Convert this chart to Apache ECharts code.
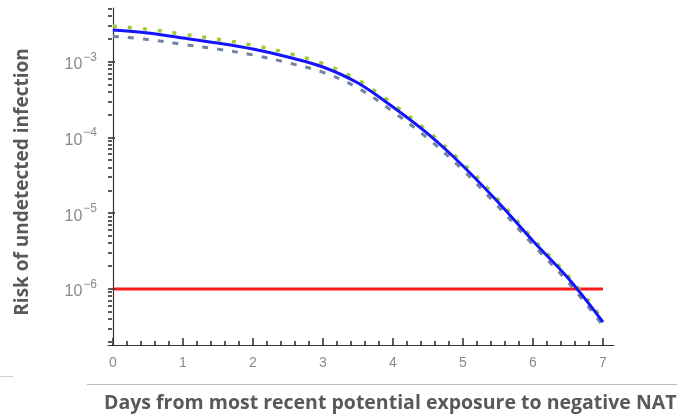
<!DOCTYPE html>
<html><head><meta charset="utf-8">
<script src="https://cdn.jsdelivr.net/npm/echarts@6/dist/echarts.min.js"></script>
<style>html,body{margin:0;padding:0;background:#fff}#c{width:677px;height:417px}</style>
</head><body><div id="c"></div>
<script>
const days = [0, 0.5, 1, 1.5, 2, 2.5, 3, 3.5, 4, 4.5, 5, 5.5, 6, 6.5, 7];
const riskBlue = [2.649e-3, 2.415e-3, 2.075e-3, 1.782e-3, 1.486e-3, 1.164e-3, 8.59e-4, 5.27e-4, 2.54e-4, 1.12e-4, 4.23e-5, 1.41e-5, 4.31e-6, 1.40e-6, 3.66e-7];
const riskGreen = [2.97e-3, 2.71e-3, 2.33e-3, 2.00e-3, 1.67e-3, 1.31e-3, 9.53e-4, 5.78e-4, 2.79e-4, 1.21e-4, 4.58e-5, 1.53e-5, 4.61e-6, 1.50e-6, 3.93e-7];
const riskDashed = [2.18e-3, 1.99e-3, 1.71e-3, 1.48e-3, 1.24e-3, 9.79e-4, 7.31e-4, 4.54e-4, 2.21e-4, 9.75e-5, 3.72e-5, 1.24e-5, 3.84e-6, 1.24e-6, 3.27e-7];
const thresholdDays = [0, 7];
const thresholdRisk = [1e-6, 1e-6];
const yMajorExponents = [-6, -5, -4, -3];
const xMajorTicks = [0, 1, 2, 3, 4, 5, 6, 7];
const yTitle = 'Risk of undetected infection';
const xTitle = 'Days from most recent potential exposure to negative NAT';

const L = Math.log10;
const toPairs = (xs, ys) => xs.map((x, i) => [x, L(ys[i])]);

const yMin = -6.74, yMax = -2.286, xMin = -0.07, xMax = 7.157;
const axisCol = '#333';
const labCol = '#8a8a8a';

// tick values (axis decoration): [value, length]
const xTicks = [];
for (let i = 0; i <= 7; i++) {
  xTicks.push([i, 7]);
  if (i < 7) for (let k = 1; k < 5; k++) xTicks.push([+(i + k * 0.2).toFixed(2), 4]);
}
const yTicks = [];
for (let e = -7; e <= -3; e++) {
  if (e >= -6) yTicks.push([e, 7]);
  for (let k = 2; k <= 9; k++) {
    const v = L(k) + e;
    if (v > yMin && v < yMax) yTicks.push([v, 4]);
  }
}

const chart = echarts.init(document.getElementById('c'), null, {renderer: 'canvas'});
chart.setOption({
  animation: false,
  backgroundColor: '#fff',
  grid: {left: 108, right: 63, top: 8, bottom: 72, containLabel: false},
  xAxis: {type: 'value', min: xMin, max: xMax, position: 'bottom',
     axisLine: {show: true, lineStyle: {color: axisCol, width: 1.2}},
     axisTick: {show: false},
     axisLabel: {show: true, customValues: xMajorTicks, margin: 11, color: labCol, fontSize: 14, fontFamily: 'Liberation Sans'},
     splitLine: {show: false}},
  yAxis: {type: 'value', min: yMin, max: yMax, position: 'left',
     axisLine: {show: true, lineStyle: {color: axisCol, width: 1.2}},
     axisTick: {show: false},
     axisLabel: {show: true, customValues: yMajorExponents, margin: 11,
       formatter: v => '{b|10}{s|\u2212' + Math.abs(Math.round(v)) + '}',
       rich: {
         b: {fontSize: 16, color: labCol, fontFamily: 'Liberation Sans', lineHeight: 17, padding: [6, 0, 0, 0]},
         s: {fontSize: 12, color: labCol, fontFamily: 'Liberation Sans', lineHeight: 13, padding: [0, 0, 9, 1]}
       }},
     splitLine: {show: false}},
  series: [
    {name: 'threshold', type: 'line', data: toPairs(thresholdDays, thresholdRisk), showSymbol: false,
     lineStyle: {color: '#ff1a1a', width: 3}, z: 2},
    {name: 'lower', type: 'line', data: toPairs(days, riskDashed), showSymbol: false, smooth: 0.35,
     lineStyle: {color: '#7282a2', width: 3, type: [6, 9]}, z: 3},
    {name: 'upper', type: 'line', data: toPairs(days, riskGreen), showSymbol: false, smooth: 0.35,
     lineStyle: {color: '#9acd32', width: 3.5, type: [4, 11]}, z: 4},
    {name: 'central', type: 'line', data: toPairs(days, riskBlue), showSymbol: false, smooth: 0.35,
     lineStyle: {color: '#1414ff', width: 3}, z: 5}
  ]
});

// tick marks placed via the chart's own coordinate conversion
const tickEls = [];
xTicks.forEach(([v, len]) => {
  const p = chart.convertToPixel({gridIndex: 0}, [v, yMin]);
  const x = Math.round(p[0]);
  tickEls.push({type: 'line', silent: true, z: 10, shape: {x1: x, y1: p[1], x2: x, y2: p[1] - len},
    style: {stroke: axisCol, lineWidth: 1.6}});
});
yTicks.forEach(([v, len]) => {
  const p = chart.convertToPixel({gridIndex: 0}, [xMin, v]);
  const y = Math.round(p[1]);
  tickEls.push({type: 'line', silent: true, z: 10, shape: {x1: p[0], y1: y, x2: p[0] + len, y2: y},
    style: {stroke: axisCol, lineWidth: 1.6}});
});

chart.setOption({
  graphic: tickEls.concat([
    {type: 'line', shape: {x1: 87, y1: 384.5, x2: 677, y2: 384.5}, style: {stroke: '#bdbdbd', lineWidth: 1}},
    {type: 'line', shape: {x1: 0, y1: 376.5, x2: 13, y2: 376.5}, style: {stroke: '#cfcfcf', lineWidth: 1}},
    {type: 'text', x: 23, y: 182, rotation: Math.PI / 2,
     style: {text: yTitle, fill: '#595959', font: 'bold 19px "Open Sans"', align: 'center', verticalAlign: 'middle'}},
    {type: 'text', x: 104, y: 403,
     style: {text: xTitle, fill: '#595959', font: 'bold 19.5px "Open Sans"', align: 'left', verticalAlign: 'middle'}}
  ])
});
</script></body></html>
